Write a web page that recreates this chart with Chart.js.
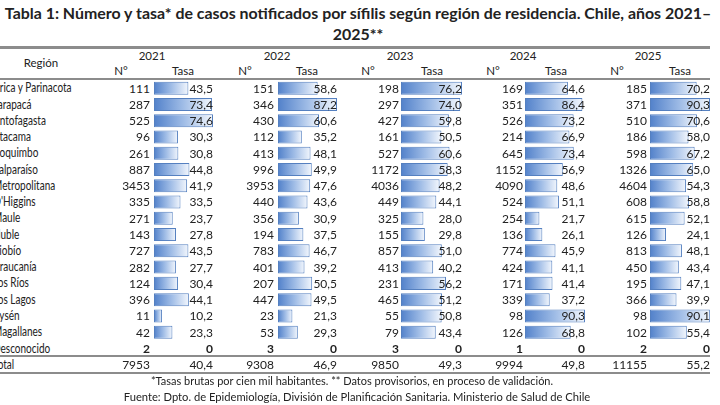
<!DOCTYPE html>
<html>
<head>
<meta charset="utf-8">
<script src="https://cdn.jsdelivr.net/npm/chart.js@4.4.1/dist/chart.umd.min.js"></script>
<style>
  html,body{margin:0;padding:0;background:#fff}
  #page{position:relative;width:720px;height:405px;overflow:hidden;font-family:Lato,"Noto Sans",sans-serif;color:#222}
  .t{position:absolute;white-space:nowrap;height:16px;line-height:16px;font-size:12px;z-index:2}
  .rule{position:absolute;left:0;width:710px;background:#8c8c8c;z-index:1}
  .bars{position:absolute;z-index:1}
</style>
</head>
<body>
<div id="page"></div>
<script>
'use strict';
// ── DATA ──────────────────────────────────────────────────────
const years = ['2021','2022','2023','2024','2025'];
const regions = ['Arica y Parinacota','Tarapacá','Antofagasta','Atacama','Coquimbo','Valparaíso','Metropolitana',"O'Higgins",
  'Maule','Ñuble','Biobío','Araucanía','Los Ríos','Los Lagos','Aysén','Magallanes','Desconocido'];

const cases2021 = [111,287,525,96,261,887,3453,335,271,143,727,282,124,396,11,42,2];
const rate2021  = [43.5,73.4,74.6,30.3,30.8,44.8,41.9,33.5,23.7,27.8,43.5,27.7,30.4,44.1,10.2,23.3,0];
const cases2022 = [151,346,430,112,413,996,3953,440,356,194,783,401,207,447,23,53,3];
const rate2022  = [58.6,87.2,60.6,35.2,48.1,49.9,47.6,43.6,30.9,37.5,46.7,39.2,50.5,49.5,21.3,29.3,0];
const cases2023 = [198,297,427,161,527,1172,4036,449,325,155,857,413,231,465,55,79,3];
const rate2023  = [76.2,74.0,59.8,50.5,60.6,58.3,48.2,44.1,28.0,29.8,51.0,40.2,56.2,51.2,50.8,43.4,0];
const cases2024 = [169,351,526,214,645,1152,4090,524,254,136,774,424,171,339,98,126,1];
const rate2024  = [64.6,86.4,73.2,66.9,73.4,56.9,48.6,51.1,21.7,26.1,45.9,41.1,41.4,37.2,90.3,68.8,0];
const cases2025 = [185,371,510,186,598,1326,4604,608,615,126,813,450,195,366,98,102,2];
const rate2025  = [70.2,90.3,70.6,58.0,67.2,65.0,54.3,58.8,52.1,24.1,48.1,43.4,47.1,39.9,90.1,55.4,0];

const totalCases = [7953,9308,9850,9994,11155];
const totalRates = [40.4,46.9,49.3,49.8,55.2];

const titleLines = ['Tabla 1: Número y tasa* de casos notificados por sífilis según región de residencia. Chile, años 2021–','2025**'];
const notes = ['*Tasas brutas por cien mil habitantes. ** Datos provisorios, en proceso de validación.',
  'Fuente: Dpto. de Epidemiología, División de Planificación Sanitaria. Ministerio de Salud de Chile'];

const allCases = [cases2021,cases2022,cases2023,cases2024,cases2025];
const allRates = [rate2021,rate2022,rate2023,rate2024,rate2025];

// ── LAYOUT ────────────────────────────────────────────────────
const ROW0 = 88, ROWH = 16.27;
const colNumRight = [150,274,399,523,647];
const colBarLeft  = [154,278,401,525,650];
const colBarRight = [213,337,462,585,710];
const colYear     = [152,277,400,523,648];
const colNHdr     = [121,245,368,493,617];
const colTasaHdr  = [183,307,432,556,680];

const page = document.getElementById('page');
const mctx = document.createElement('canvas').getContext('2d');

function fmt(v){ return v===0 ? '0' : v.toFixed(1).replace('.',','); }

function txt(s, x, y, o={}){
  const el = document.createElement('div');
  el.className = 't';
  el.textContent = s;
  const size = o.size || 12;
  el.style.fontSize = size+'px';
  el.style.height = el.style.lineHeight = Math.round(size*1.4)+'px';
  el.style.top = (y - size*0.7)+'px';
  if (o.bold) el.style.fontWeight = '700';
  if (o.align==='right') el.style.right = (720-x)+'px';
  else if (o.align==='center'){ el.style.left = x+'px'; el.style.transform = 'translateX(-50%)'; }
  else el.style.left = x+'px';
  if (o.squeeze){ el.style.transformOrigin = 'left center'; el.style.transform = 'scaleX('+o.squeeze+')'; }
  page.appendChild(el);
  return el;
}
// font size that makes s span w pixels
function fitSize(s, w, weight){
  mctx.font = (weight||'400')+' 100px Lato';
  return 100*w/mctx.measureText(s).width;
}
function rule(y, h){
  const r = document.createElement('div');
  r.className = 'rule';
  r.style.top = y+'px'; r.style.height = h+'px';
  page.appendChild(r);
}

// ── TITLE ─────────────────────────────────────────────────────
const tSize = fitSize(titleLines[0], 708, '700');
txt(titleLines[0], 358, 13, {align:'center', bold:true, size:tSize});
txt(titleLines[1], 358, 34, {align:'center', bold:true, size:tSize});

// ── HEADER ────────────────────────────────────────────────────
rule(46, 2.5);
txt('Región', 41, 63, {align:'center', size:11.5});
years.forEach((yr,c)=>{
  txt(yr, colYear[c], 56, {align:'center', size:11.5});
  txt('N°', colNHdr[c], 71, {align:'center', size:11.5});
  txt('Tasa', colTasaHdr[c], 71, {align:'center', size:11.5});
});
rule(78, 2);

// ── ROWS ──────────────────────────────────────────────────────
regions.forEach((r,i)=>{
  const y = ROW0 + i*ROWH;
  const last = i===regions.length-1;
  txt(r, -7, y, {size:12.5, squeeze:0.8});
  years.forEach((yr,c)=>{
    txt(String(allCases[c][i]), colNumRight[c], y, {align:'right', bold:last});
    txt(fmt(allRates[c][i]), colBarRight[c], y, {align:'right', bold:last});
  });
});
rule(355, 2);
const yT = ROW0 + regions.length*ROWH;
txt('Total', -7, yT, {size:12.5, squeeze:0.8});
years.forEach((yr,c)=>{
  txt(String(totalCases[c]), colNumRight[c], yT, {align:'right'});
  txt(fmt(totalRates[c]), colBarRight[c], yT, {align:'right'});
});
rule(372, 1.5);

// ── NOTES ─────────────────────────────────────────────────────
txt(notes[0], 352, 381, {align:'center', size:fitSize(notes[0], 403)});
txt(notes[1], 357, 397, {align:'center', size:fitSize(notes[1], 467)});

// ── DATA BARS ─────────────────────────────────────────────────
function barFill(ctx){
  const ch = ctx.chart;
  if (!ch.chartArea) return '#7fa4d8';
  const sx = ch.scales.x;
  const x0 = sx.getPixelForValue(0), x1 = sx.getPixelForValue(ctx.raw||0);
  if (x1-x0 < 1) return '#5b89cf';
  const g = ch.ctx.createLinearGradient(x0,0,x1,0);
  g.addColorStop(0,'#5281ca');
  g.addColorStop(0.5,'#9fbce6');
  g.addColorStop(1,'#f3f7fd');
  return g;
}

years.forEach((yr,c)=>{
  const wrap = document.createElement('div');
  wrap.className = 'bars';
  wrap.style.left = colBarLeft[c]+'px';
  wrap.style.width = (colBarRight[c]-colBarLeft[c])+'px';
  wrap.style.top = (ROW0 - ROWH/2)+'px';
  wrap.style.height = (ROWH*regions.length)+'px';
  const cv = document.createElement('canvas');
  wrap.appendChild(cv);
  page.appendChild(wrap);
  new Chart(cv.getContext('2d'), {
    type:'bar',
    data:{
      labels: regions,
      datasets:[{
        data: allRates[c],
        backgroundColor: barFill,
        borderColor: '#5580c0',
        borderWidth: 1,
        borderSkipped: false,
        barPercentage: 0.8,
        categoryPercentage: 1
      }]
    },
    options:{
      indexAxis:'y',
      responsive:true,
      maintainAspectRatio:false,
      animation:false,
      layout:{padding:0},
      plugins:{legend:{display:false}, tooltip:{enabled:false}},
      scales:{
        x:{display:false, min:0, max:Math.max(...allRates[c])},
        y:{display:false}
      }
    }
  });
});
</script>
</body>
</html>
